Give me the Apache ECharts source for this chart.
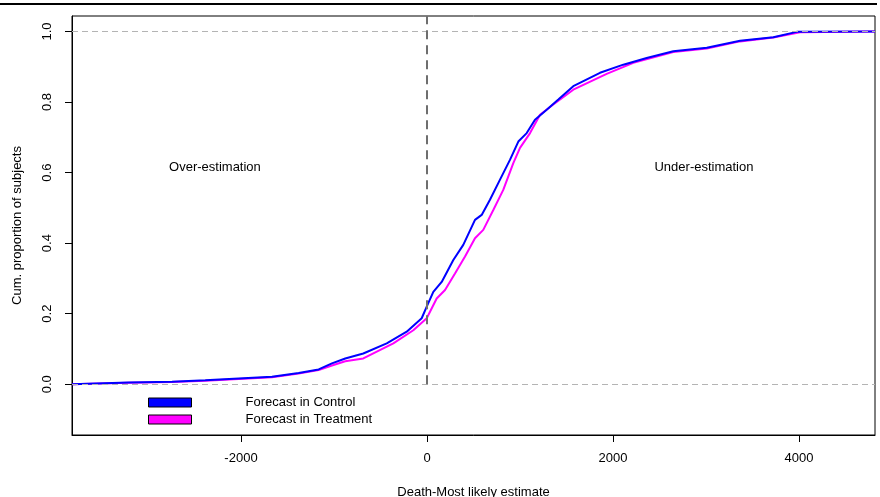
<!DOCTYPE html>
<html>
<head>
<meta charset="utf-8">
<script src="https://cdn.jsdelivr.net/npm/echarts@6/dist/echarts.min.js"></script>
<style>
  html, body { margin: 0; padding: 0; background: #fff; }
  #chart { width: 880px; height: 497px; }
</style>
</head>
<body>
<div id="chart"></div>
<script>
// ECDF of (death - most likely estimate)
const controlX = [-3817, -3208, -2742, -2384, -2025, -1667, -1380, -1165, -1022, -879, -685, -433, -218, -57, -3, 68, 158, 283, 390, 516, 588, 677, 785, 892, 982, 1072, 1161, 1287, 1412, 1573, 1860, 2111, 2362, 2648, 3008, 3366, 3724, 3975, 4817];
const controlY = [0, 0.005, 0.007, 0.011, 0.016, 0.021, 0.032, 0.042, 0.059, 0.073, 0.087, 0.116, 0.149, 0.187, 0.22, 0.262, 0.29, 0.352, 0.395, 0.466, 0.48, 0.523, 0.58, 0.636, 0.688, 0.712, 0.75, 0.778, 0.807, 0.845, 0.883, 0.906, 0.925, 0.944, 0.954, 0.974, 0.984, 0.999, 1];

const treatX = [-3817, -3208, -2742, -2384, -2025, -1667, -1380, -1165, -1022, -879, -685, -362, -147, -3, 104, 194, 301, 409, 516, 605, 713, 820, 928, 1000, 1108, 1215, 1358, 1573, 1932, 2218, 2648, 3008, 3366, 3724, 4011, 4817];
const treatY = [0, 0.004, 0.006, 0.010, 0.015, 0.020, 0.030, 0.040, 0.053, 0.065, 0.073, 0.116, 0.153, 0.187, 0.243, 0.267, 0.314, 0.362, 0.414, 0.4375, 0.494, 0.551, 0.627, 0.67, 0.712, 0.764, 0.793, 0.835, 0.88, 0.911, 0.942, 0.952, 0.972, 0.983, 0.998, 1];

const seriesNames = ["Forecast in Control", "Forecast in Treatment"];
const xTicks = [-2000, 0, 2000, 4000];
const yTicks = [0, 0.2, 0.4, 0.6, 0.8, 1.0];
const refLinesY = [0, 1];
const notes = ["Over-estimation", "Under-estimation"];
const notesX = [-2280, 2978];
const notesY = [0.614, 0.614];

const font = "'Liberation Sans', Arial, sans-serif";

const chart = echarts.init(document.getElementById("chart"), null, { renderer: "canvas" });

function pairs(xs, ys) {
    return xs.map((x, i) => [x, ys[i]]);
}

const option = {
    backgroundColor: "#ffffff",
    animation: false,
    textStyle: { fontFamily: font },
    grid: {
        left: 72,
        right: 5,
        top: 16,
        bottom: 62,
        outerBoundsMode: "none",
        containLabel: false,
        show: true,
        borderColor: "#000",
        borderWidth: 1,
    },
    legend: {
        orient: "vertical",
        left: 143,
        top: 390,
        icon: "rect",
        itemWidth: 43,
        itemHeight: 9,
        itemGap: 2,
        itemStyle: { borderColor: "#000", borderWidth: 1 },
        textStyle: {
            fontFamily: font,
            fontSize: 13,
            color: "#000",
            lineHeight: 15,
            padding: [0, 0, 0, 49],
        },
        data: seriesNames,
    },
    xAxis: {
        type: "value",
        min: -3817,
        max: 4817,
        name: "Death-Most likely estimate",
        nameLocation: "middle",
        nameGap: 51,
        nameTextStyle: { fontFamily: font, fontSize: 13, color: "#000" },
        splitLine: { show: false },
        axisLine: { show: true, onZero: false, lineStyle: { color: "#000", width: 1 } },
        axisTick: { show: true, length: 7, customValues: xTicks, lineStyle: { color: "#000" } },
        axisLabel: {
            customValues: xTicks,
            margin: 17,
            fontFamily: font,
            fontSize: 13,
            color: "#000",
            formatter: (v) => String(v),
        },
    },
    yAxis: {
        type: "value",
        min: -0.144,
        max: 1.044,
        name: "Cum. proportion of subjects",
        nameLocation: "middle",
        nameGap: 48,
        nameRotate: 90,
        nameTextStyle: { fontFamily: font, fontSize: 13, color: "#000" },
        splitLine: { show: false },
        axisLine: { show: true, onZero: false, lineStyle: { color: "#000", width: 1 } },
        axisTick: { show: true, length: 7, customValues: yTicks, lineStyle: { color: "#000" } },
        axisLabel: {
            customValues: yTicks,
            rotate: 90,
            margin: 18,
            fontFamily: font,
            fontSize: 13,
            color: "#000",
            formatter: (v) => v.toFixed(1),
        },
    },
    series: [
        {
            name: seriesNames[0],
            type: "line",
            data: pairs(controlX, controlY),
            showSymbol: false,
            color: "#0000ff",
            itemStyle: { color: "#0000ff" },
            lineStyle: { color: "#0000ff", width: 2 },
            z: 3,
            markLine: {
                silent: true,
                symbol: "none",
                label: { show: false },
                lineStyle: { color: "#b4b4b4", type: [6, 4], width: 1 },
                data: refLinesY.map((v) => ({ yAxis: v })),
            },
            markPoint: {
                silent: true,
                symbol: "circle",
                symbolSize: 0,
                label: {
                    show: true,
                    position: "inside",
                    fontFamily: font,
                    fontSize: 13,
                    color: "#000",
                    formatter: (p) => p.name,
                },
                data: notes.map((t, i) => ({ name: t, coord: [notesX[i], notesY[i]] })),
            },
        },
        {
            name: seriesNames[1],
            type: "line",
            data: pairs(treatX, treatY),
            showSymbol: false,
            color: "#ff00ff",
            itemStyle: { color: "#ff00ff" },
            lineStyle: { color: "#ff00ff", width: 2 },
            z: 2,
            markLine: {
                silent: true,
                symbol: "none",
                label: { show: false },
                lineStyle: { color: "#6e6e6e", type: [9, 6], width: 2 },
                data: [[{ coord: [0, 0] }, { coord: [0, 1.044] }]],
            },
        },
    ],
    graphic: [
        {
            type: "line",
            shape: { x1: 0, y1: 4, x2: 877, y2: 4 },
            style: { stroke: "#000", lineWidth: 2 },
        },
    ],
};

chart.setOption(option);
</script>
</body>
</html>
